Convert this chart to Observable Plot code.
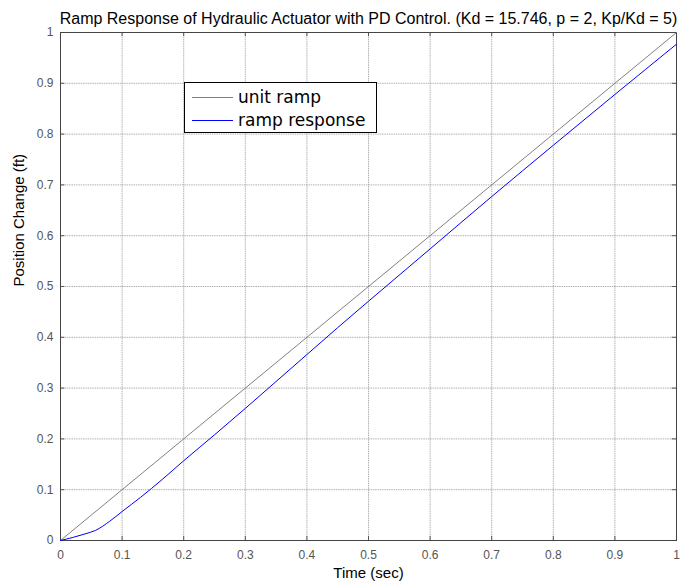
<!DOCTYPE html>
<html>
<head>
<meta charset="utf-8">
<script src="https://cdn.jsdelivr.net/npm/d3@7"></script>
<script src="https://cdn.jsdelivr.net/npm/@observablehq/plot@0.6"></script>
<style>
  body { margin: 0; background: #fff; }
  #wrap { position: relative; width: 691px; height: 588px; }
  #legend {
    position: absolute; left: 184px; top: 82px; width: 193px; height: 51px;
    border: 1px solid #000; background: #fff; box-sizing: border-box;
    font-family: "DejaVu Sans", Verdana, sans-serif; font-size: 17px; color: #000;
  }
  #legend .row { position: absolute; left: 7px; height: 22px; display: flex; align-items: center; }
  #legend .sw { width: 41px; height: 0; border-top: 1px solid; margin-right: 5px; }
</style>
</head>
<body>
<div id="wrap"></div>
<script>
const title = "Ramp Response of Hydraulic Actuator with PD Control. (Kd = 15.746, p = 2, Kp/Kd = 5)";
const xLabel = "Time (sec)";
const yLabel = "Position Change (ft)";
const ticks = [0, 0.1, 0.2, 0.3, 0.4, 0.5, 0.6, 0.7, 0.8, 0.9, 1];

const rampT = [0, 1];
const rampY = [0, 1];

const respT = [0, 0.02, 0.04, 0.057, 0.08, 0.1, 0.13, 0.165, 0.2, 0.25, 0.3, 0.35, 0.4, 0.45, 0.5, 0.6, 0.7, 0.8, 0.9, 1.0];
const respY = [0, 0.006, 0.013, 0.02, 0.038, 0.057, 0.085, 0.120, 0.157, 0.208, 0.260, 0.313, 0.366, 0.419, 0.471, 0.574, 0.677, 0.778, 0.878, 0.977];

const legendNames = ["unit ramp", "ramp response"];
const legendColors = ["#808080", "#0000ff"];

const ramp = rampT.map((t, i) => ({t, y: rampY[i]}));
const resp = respT.map((t, i) => ({t, y: respY[i]}));

const fmt = d => String(d);

const chart = Plot.plot({
  width: 691,
  height: 588,
  marginLeft: 60,
  marginRight: 15,
  marginTop: 32,
  marginBottom: 48,
  style: {fontFamily: "'Liberation Sans', Arial, sans-serif", background: "#fff"},
  x: {domain: [0, 1]},
  y: {domain: [0, 1]},
  marks: [
    Plot.gridX(ticks, {stroke: "#aaa", strokeOpacity: 0.9, strokeDasharray: "1.5,0.8"}),
    Plot.gridY(ticks, {stroke: "#aaa", strokeOpacity: 0.9, strokeDasharray: "1.5,0.8"}),
    Plot.axisX(ticks, {anchor: "bottom", tickSize: 0, tickPadding: 10, tickFormat: fmt, fontSize: 12, color: "#555", label: null}),
    Plot.axisY(ticks, {anchor: "left", tickSize: 0, tickPadding: 7, tickFormat: fmt, fontSize: 12, color: "#555", label: null}),
    Plot.ruleX(ticks, {y1: 0, y2: 0.008, stroke: "#555"}),
    Plot.ruleX(ticks, {y1: 0.992, y2: 1, stroke: "#555"}),
    Plot.ruleY(ticks, {x1: 0, x2: 0.007, stroke: "#555"}),
    Plot.ruleY(ticks, {x1: 0.993, x2: 1, stroke: "#555"}),
    Plot.frame({stroke: "#444", strokeWidth: 1}),
    Plot.line(ramp, {x: "t", y: "y", stroke: legendColors[0], strokeWidth: 1}),
    Plot.line(resp, {x: "t", y: "y", stroke: legendColors[1], strokeWidth: 1, curve: "monotone-x"}),
    Plot.text([title], {frameAnchor: "top", dy: -20, fontSize: 16, fill: "#000"}),
    Plot.text([xLabel], {frameAnchor: "bottom", dy: 37, fontSize: 15, fill: "#000"}),
    Plot.text([yLabel], {frameAnchor: "left", dx: -41, rotate: -90, fontSize: 15, fill: "#000"})
  ]
});

const wrap = document.getElementById("wrap");
wrap.appendChild(chart);
const lg = document.createElement("div");
lg.id = "legend";
legendNames.forEach((n, i) => {
  const row = document.createElement("div");
  row.className = "row";
  row.style.top = (3 + i * 23) + "px";
  const sw = document.createElement("span");
  sw.className = "sw";
  sw.style.borderTopColor = legendColors[i];
  const tx = document.createElement("span");
  tx.textContent = n;
  row.appendChild(sw);
  row.appendChild(tx);
  lg.appendChild(row);
});
wrap.appendChild(lg);
</script>
</body>
</html>
